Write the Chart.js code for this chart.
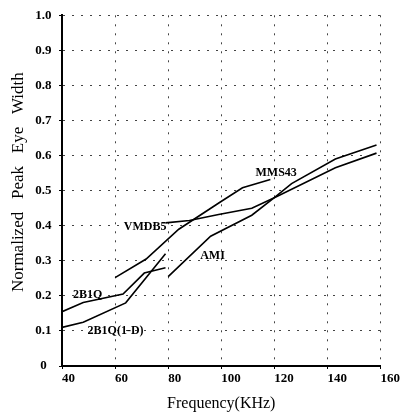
<!DOCTYPE html>
<html><head><meta charset="utf-8">
<script src="https://cdn.jsdelivr.net/npm/chart.js@4.4.0/dist/chart.umd.min.js"></script>
<style>html,body{margin:0;padding:0;background:#fff;} #wrap{width:402px;height:415px;}</style>
</head><body><div id="wrap"><canvas id="c" width="402" height="415"></canvas></div>
<script>
// ---- data ----
const xTickValues = [40, 60, 80, 100, 120, 140, 160];
const xTickLabels = ['40', '60', '80', '100', '120', '140', '160'];
const yTickLabels = ['0', '0.1', '0.2', '0.3', '0.4', '0.5', '0.6', '0.7', '0.8', '0.9', '1.0'];
const seriesNames = ['2B1Q', '2B1Q(1-D)', 'VMDB5', 'AMI', 'MMS43'];

const x2B1Q = [40, 48, 63, 71, 79];
const y2B1Q = [0.155, 0.181, 0.205, 0.265, 0.28];

const x2B1Q1D = [40, 48, 64, 79];
const y2B1Q1D = [0.11, 0.125, 0.18, 0.32];

const xVMDB5 = [79, 88, 99, 111.5, 120, 143, 158.5];
const yVMDB5 = [0.408, 0.415, 0.432, 0.45, 0.48, 0.565, 0.607];

const xAMI = [80, 96, 111.5, 120, 126.5, 143, 158.5];
const yAMI = [0.255, 0.37, 0.43, 0.48, 0.52, 0.59, 0.63];

const xMMS43 = [60, 71.7, 84, 99.5, 108, 118.5];
const yMMS43 = [0.252, 0.305, 0.39, 0.467, 0.508, 0.532];

// label anchor positions (in data units)
const labelAtX = [49.7, 60.2, 71.3, 96.7, 120.7];
const labelAtY = [0.204, 0.099, 0.397, 0.314, 0.552];

// ---- build ----
const pairs = (xs, ys) => xs.map((x, i) => ({x: x, y: ys[i]}));
const seriesData = [
  pairs(x2B1Q, y2B1Q),
  pairs(x2B1Q1D, y2B1Q1D),
  pairs(xVMDB5, yVMDB5),
  pairs(xAMI, yAMI),
  pairs(xMMS43, yMMS43)
];

const serif = '"Liberation Serif", "Times New Roman", serif';

const seriesLabelPlugin = {
  id: 'seriesLabels',
  afterDatasetsDraw(chart) {
    const {ctx, scales: {x, y}} = chart;
    ctx.save();
    ctx.font = 'bold 12px ' + serif;
    ctx.fillStyle = '#000';
    ctx.textAlign = 'center';
    ctx.textBaseline = 'middle';
    seriesNames.forEach((n, i) => {
      ctx.fillText(n, x.getPixelForValue(labelAtX[i]), y.getPixelForValue(labelAtY[i]));
    });
    ctx.restore();
  }
};

new Chart(document.getElementById('c'), {
  type: 'line',
  data: {
    datasets: seriesData.map((d, i) => ({
      label: seriesNames[i],
      data: d,
      borderColor: '#000',
      backgroundColor: '#000',
      borderWidth: 1.6,
      pointRadius: 0,
      tension: 0,
      fill: false
    }))
  },
  options: {
    responsive: false,
    animation: false,
    layout: {padding: {top: 13, right: 20, left: 0, bottom: 0}},
    plugins: {legend: {display: false}, tooltip: {enabled: false}},
    scales: {
      x: {
        type: 'linear',
        min: 40, max: 160,
        afterFit(s) { s.height = 49; },
        afterBuildTicks(s) { s.ticks = xTickValues.map(v => ({value: v})); },
        ticks: {
          align: 'start',
          padding: 2,
          color: '#000',
          font: {family: serif, size: 13, weight: 'bold'},
          callback: (v, i) => xTickLabels[i]
        },
        grid: {
          color: '#444', lineWidth: 1,
          tickLength: 3, tickColor: '#000', tickBorderDash: [], drawTicks: true
        },
        border: {display: true, color: '#000', width: 2, dash: [2, 7]},
        title: {
          display: true, text: 'Frequency(KHz)', color: '#000',
          font: {family: serif, size: 16, weight: 'normal'},
          padding: {top: 0, bottom: 2}
        }
      },
      y: {
        type: 'linear',
        min: 0, max: 1,
        afterFit(s) { s.width = 62; },
        afterBuildTicks(s) { s.ticks = yTickLabels.map((t, i) => ({value: i / 10})); },
        ticks: {
          crossAlign: 'center',
          padding: 7.5,
          color: '#000',
          font: {family: serif, size: 13, weight: 'bold'},
          callback: (v, i) => yTickLabels[i]
        },
        grid: {
          color: '#444', lineWidth: 1,
          tickLength: 3, tickColor: '#000', tickBorderDash: [], drawTicks: true
        },
        border: {display: true, color: '#000', width: 2, dash: [2, 7]},
        title: {
          display: true, text: '    Normalized   Peak   Eye   Width', color: '#000',
          font: {family: serif, size: 17, weight: 'normal'},
          padding: {top: 8, bottom: 0}
        }
      }
    }
  },
  plugins: [seriesLabelPlugin]
});
</script>
</body></html>
